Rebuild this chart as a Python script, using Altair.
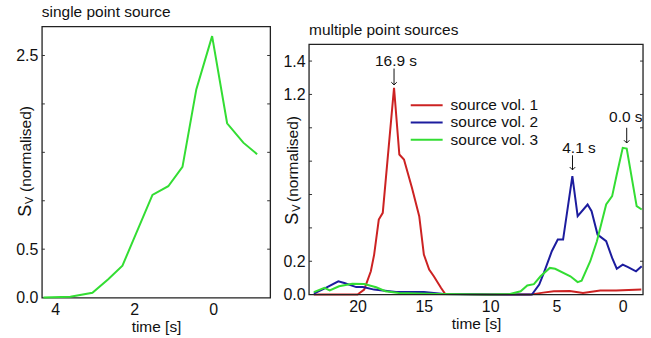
import altair as alt
import pandas as pd

FONT = "Liberation Sans"

# ---------------- left panel: single point source ----------------
single_t = [4.30, 3.62, 3.06, 2.66, 2.30, 1.54, 1.14, 0.78, 0.43, 0.03, -0.35, -0.76, -1.11]
single_v = [0.00, 0.01, 0.05, 0.19, 0.33, 1.06, 1.15, 1.35, 2.15, 2.70, 1.80, 1.60, 1.48]
single_color = "#33dd33"
left_x_domain = [-1.44, 4.34]
left_y_domain = [0, 2.8]
left_x_labels = [4, 2, 0]
left_y_labels = [0, 0.5, 2.5]
left_y_ticks = [0.5, 1.0, 1.5, 2.0, 2.5]

# ---------------- right panel: multiple point sources ----------------
series_names = ["source vol. 1", "source vol. 2", "source vol. 3"]
series_colors = ["#cc2222", "#1c1c9e", "#33dd33"]

red_t = [23.3, 20.0, 19.5, 19.0, 18.75, 18.4, 18.1, 17.25, 16.85, 16.5, 15.9, 15.35, 15.0,
         14.6, 14.25, 13.7, 13.4, 10.0, 7.0, 6.0, 5.2, 4.0, 3.0, 1.7, 0.5, -1.4]
red_v = [0.0, 0.0, 0.03, 0.14, 0.24, 0.45, 0.49, 1.24, 0.84, 0.81, 0.64, 0.47, 0.24,
         0.15, 0.11, 0.04, 0.005, 0.0, 0.0, 0.012, 0.02, 0.022, 0.01, 0.024, 0.025, 0.03]

blue_t = [23.3, 22.4, 21.45, 21.0, 20.1, 19.6, 18.75, 17.1, 15.0, 13.5, 10.0, 6.85, 6.3,
          5.95, 5.35, 4.9, 4.5, 3.8, 3.4, 2.65, 2.35, 1.9, 1.25, 0.8, 0.45, 0.0, -0.4, -1.0, -1.43]
blue_v = [0.006, 0.04, 0.08, 0.07, 0.045, 0.045, 0.03, 0.015, 0.015, 0.003, 0.0, 0.0, 0.06,
          0.13, 0.26, 0.33, 0.33, 0.71, 0.47, 0.54, 0.50, 0.36, 0.32, 0.22, 0.155, 0.18, 0.165, 0.14, 0.17]

green_t = [23.3, 22.5, 22.1, 21.4, 20.4, 19.5, 18.6, 17.9, 16.9, 14.0, 10.0, 8.5, 7.7, 7.2,
           6.7, 6.2, 5.5, 5.1, 3.95, 3.4, 3.1, 2.45, 1.95, 1.25, 0.8, 0.45, 0.0, -0.3, -1.05, -1.43]
green_v = [0.015, 0.04, 0.025, 0.05, 0.065, 0.063, 0.044, 0.02, 0.01, 0.003, 0.0, 0.004, 0.02, 0.055,
           0.063, 0.11, 0.16, 0.155, 0.11, 0.075, 0.083, 0.20, 0.32, 0.54, 0.59, 0.72, 0.88, 0.875, 0.53, 0.51]

right_x_domain = [-1.53, 23.66]
right_y_domain = [0, 1.5]
right_x_labels = [20, 15, 10, 5, 0]
right_y_labels = [0, 0.2, 1.2, 1.4]
right_y_ticks = [0.2, 0.4, 0.6, 0.8, 1.0, 1.2, 1.4]

annot_text = ["16.9 s", "4.1 s", "0.0 s"]
annot_text_t = [17.1, 3.3, -0.23]
annot_text_v = [1.40, 0.878, 1.066]
arrow_t = [17.25, 3.79, -0.30]
arrow_top = [1.355, 0.835, 1.0]
arrow_tip = [1.257, 0.748, 0.909]

ylabel_parts = ["S", "V", "(normalised)"]
ylabel_sizes = [18, 11, 15.5]

titles = ["single point source", "multiple point sources"]

LW, LH = 229, 272
RW, RH = 335, 269   # right group is taller; its frame starts RTOP px below the group top
RTOP = 18
TXT = "#111"


def ylabel_layer(starts, base_x):
    layers = []
    for txt, fs, st, bx in zip(ylabel_parts, ylabel_sizes, starts, [base_x, base_x + 2, base_x]):
        row = pd.DataFrame({"txt": [txt], "start": [st], "bx": [bx]})
        layers.append(
            alt.Chart(row).mark_text(angle=270, align="left", baseline="alphabetic",
                                     font=FONT, fontSize=fs, color=TXT)
            .encode(x=alt.X("bx:Q", scale=None), y=alt.Y("start:Q", scale=None), text="txt:N")
        )
    return layers


def inward_ticks(values, width, yscale):
    df = pd.DataFrame({"v": values})
    y = alt.Y("v:Q", scale=yscale)
    left = alt.Chart(df).mark_rule(color="#333", strokeWidth=1).encode(
        x=alt.value(0), x2=alt.value(3), y=y)
    right = alt.Chart(df).mark_rule(color="#333", strokeWidth=1).encode(
        x=alt.value(width - 3), x2=alt.value(width), y=y)
    return [left, right]


# ---------- left chart ----------
left_df = pd.DataFrame({"t": single_t, "v": single_v})
lys = alt.Scale(domain=left_y_domain, nice=False, zero=False)
lx = alt.X("t:Q", scale=alt.Scale(domain=left_x_domain, reverse=True, nice=False, zero=False),
           axis=alt.Axis(values=left_x_labels, title="time [s]", format="d"))
ly = alt.Y("v:Q", scale=lys, axis=alt.Axis(values=left_y_labels, title=None, format=".1f"))
left_line = alt.Chart(left_df).mark_line(color=single_color, strokeWidth=2).encode(x=lx, y=ly)

left_chart = alt.layer(left_line, *inward_ticks(left_y_ticks, LW, lys),
                       *ylabel_layer([191, 178, 166], -11)).properties(
    width=LW, height=LH,
    view=alt.ViewBackground(stroke="#222", strokeWidth=1.3),
    title=alt.TitleParams(titles[0], anchor="start", frame="group", fontSize=15.5,
                          fontWeight="normal", font=FONT, color=TXT, offset=6),
)

# ---------- right chart ----------
rows = []
for name, ts, vs in zip(series_names, [red_t, blue_t, green_t], [red_v, blue_v, green_v]):
    for t, v in zip(ts, vs):
        rows.append({"series": name, "t": t, "v": v})
right_df = pd.DataFrame(rows)

rys = alt.Scale(domain=right_y_domain, range=[RH, RTOP], nice=False, zero=False)
rx = alt.X("t:Q", scale=alt.Scale(domain=right_x_domain, reverse=True, nice=False, zero=False),
           axis=alt.Axis(values=right_x_labels, title="time [s]", format="d"))
ry = alt.Y("v:Q", scale=rys, axis=alt.Axis(values=right_y_labels, title=None, format=".1f"))
color = alt.Color("series:N", scale=alt.Scale(domain=series_names, range=series_colors), legend=None)

right_lines = alt.Chart(right_df).mark_line(strokeWidth=2).encode(x=rx, y=ry, color=color, order="t:Q")

frame = alt.Chart(pd.DataFrame({"k": [0]})).mark_rect(
    fillOpacity=0, stroke="#222", strokeWidth=1.3).encode(
    x=alt.value(0), x2=alt.value(RW), y=alt.value(RTOP), y2=alt.value(RH))

title_r = alt.Chart(pd.DataFrame({"txt": [titles[1]]})).mark_text(
    align="left", baseline="alphabetic", font=FONT, fontSize=15.5, color=TXT).encode(
    x=alt.value(0), y=alt.value(9), text="txt:N")

ann_df = pd.DataFrame({"txt": annot_text, "tt": annot_text_t, "tv": annot_text_v,
                       "at": arrow_t, "a1": arrow_top, "a2": arrow_tip})
ann_text = alt.Chart(ann_df).mark_text(font=FONT, fontSize=15.5, color=TXT, baseline="middle").encode(
    x="tt:Q", y=alt.Y("tv:Q", scale=rys), text="txt:N")
ann_shaft = alt.Chart(ann_df).mark_rule(color=TXT, strokeWidth=1).encode(
    x="at:Q", y=alt.Y("a1:Q", scale=rys), y2="a2:Q")
ann_head = alt.Chart(ann_df).mark_point(shape="M-1,-1L0,0L1,-1", filled=False, color=TXT,
                                        strokeWidth=1, size=30, opacity=1).encode(
    x="at:Q", y=alt.Y("a2:Q", scale=rys))

leg_df = pd.DataFrame({"series": series_names, "idx": list(range(len(series_names)))})
leg_rule = alt.Chart(leg_df).transform_calculate(ly="79 + datum.idx * 17.3").mark_rule(strokeWidth=2).encode(
    x=alt.value(102), x2=alt.value(134), y=alt.Y("ly:Q", scale=None), color=color)
leg_text = alt.Chart(leg_df).transform_calculate(ly="79 + datum.idx * 17.3").mark_text(
    align="left", baseline="middle", font=FONT, fontSize=15.5, color=TXT).encode(
    x=alt.value(142), y=alt.Y("ly:Q", scale=None), text="series:N")

right_chart = alt.layer(
    right_lines, *inward_ticks(right_y_ticks, RW, rys), frame, title_r,
    ann_shaft, ann_head, ann_text, leg_rule, leg_text,
    *ylabel_layer([199, 186, 176], -11)
).properties(
    width=RW, height=RH,
    view=alt.ViewBackground(stroke=None),
)

chart = alt.hconcat(left_chart, right_chart, spacing=10).properties(
    padding={"left": 15, "top": 3, "right": 5, "bottom": 2},
    background="white",
).configure_axis(
    labelFont=FONT, titleFont=FONT, labelFontSize=16, titleFontSize=15.5, titleFontWeight="normal",
    labelColor=TXT, titleColor=TXT, domain=False, ticks=False, tickSize=0, grid=False,
    labelPadding=4, titlePadding=2,
)

chart.save("out.html", embed_options={"renderer": "svg", "actions": False})
